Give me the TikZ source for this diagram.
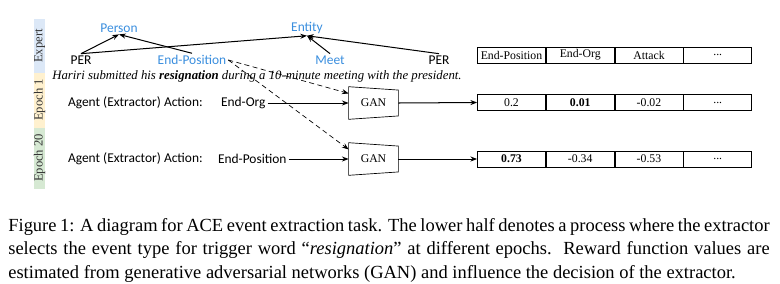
\documentclass[tikz,border=0pt]{standalone}
\usepackage{fontspec}
\setmainfont{Liberation Serif}
\newfontfamily\calfont{Carlito}
\usetikzlibrary{positioning,arrows.meta}
\definecolor{labelblue}{HTML}{3A8EDE}
\definecolor{expertbg}{HTML}{DCE8F7}
\definecolor{epochonebg}{HTML}{FFF1CF}
\definecolor{epochtwentybg}{HTML}{D6E9D3}
\tikzset{
  tag/.style={font=\calfont\fontsize{8}{9}\selectfont, inner sep=1pt},
  etype/.style={tag, text=labelblue},
  cell/.style={draw, minimum width=40.5pt, minimum height=9.6pt, inner sep=0pt,
    font=\fontsize{7}{8}\selectfont},
  gan/.style={minimum width=29.2pt, minimum height=19pt, inner sep=0pt,
    font=\fontsize{7}{8}\selectfont},
  band/.style={rotate=90, font=\fontsize{7.5}{8}\selectfont, text=black!80},
  arr/.style={-{Stealth[length=4pt,width=3pt]}, semithick},
  dasharr/.style={arr, densely dashed, thin},
}
\begin{document}
\begin{tikzpicture}[x=0.595pt,y=-0.595pt]
  \useasboundingbox (0,0) rectangle (780,283);
  % coloured bands on the left
  \fill[expertbg] (34,19) rectangle (45,73);
  \fill[epochonebg] (34,73) rectangle (45,128);
  \fill[epochtwentybg] (34,128) rectangle (45,189);
  \node[band] (expert) at (39.5,46) {Expert};
  \node[band] (epone) at (39.5,100) {Epoch 1};
  \node[band] (eptwenty) at (39.5,158) {Epoch 20};

  % expert annotation
  \node[etype] (person) at (119,28) {Person};
  \node[etype] (entity) at (307,28) {Entity};
  \node[tag] (per1) at (81,60) {PER};
  \node[etype] (endpos) at (192,60) {End-Position};
  \node[etype] (meet) at (330,60) {Meet};
  \node[tag] (per2) at (439,60) {PER};
  \draw[arr] (per1.north) -- (person.south);
  \draw[arr] (endpos.north) -- (person.south);
  \draw[arr] (per1.north) -- (entity.south);
  \draw[arr] (meet.north) -- (entity.south);
  \draw[arr] (per2.north) -- (entity.south);
  \node[anchor=west, inner sep=0pt, font=\itshape\fontsize{7.6}{9}\selectfont] (sent) at (52,76)
    {Hariri submitted his \textbf{resignation} during a 10-minute meeting with the president.};

  % extractor rows
  \node[tag, anchor=west] (act1) at (66,103) {Agent (Extractor) Action:};
  \node[tag, anchor=west] (org) at (219,103) {End-Org};
  \node[gan] (gan1) at (373.5,103) {GAN};
  \node[tag, anchor=west] (act2) at (66,159) {Agent (Extractor) Action:};
  \node[tag, anchor=west] (pos2) at (216,159) {End-Position};
  \node[gan] (gan2) at (373.5,159) {GAN};
  \draw (gan1.north west) -- ([yshift=-2pt]gan1.north east) -- ([yshift=2pt]gan1.south east) -- (gan1.south west) -- cycle;
  \draw (gan2.north west) -- ([yshift=-2pt]gan2.north east) -- ([yshift=2pt]gan2.south east) -- (gan2.south west) -- cycle;

  % reward tables
  \node[cell] (h1) at (511.5,55) {End-Position};
  \node[cell, right=0pt of h1] (h2) {End-Org};
  \node[cell, right=0pt of h2] (h3) {Attack};
  \node[cell, right=0pt of h3] (h4) {...};
  \node[cell] (a1) at (511.5,102.5) {0.2};
  \node[cell, right=0pt of a1] (a2) {\textbf{0.01}};
  \node[cell, right=0pt of a2] (a3) {-0.02};
  \node[cell, right=0pt of a3] (a4) {...};
  \node[cell] (b1) at (511.5,159) {\textbf{0.73}};
  \node[cell, right=0pt of b1] (b2) {-0.34};
  \node[cell, right=0pt of b2] (b3) {-0.53};
  \node[cell, right=0pt of b3] (b4) {...};

  \draw[arr] (org.east) -- (gan1.west);
  \draw[arr] (pos2.east) -- (gan2.west);
  \draw[arr] (gan1.east) -- (a1.west);
  \draw[arr] (gan2.east) -- (b1.west);
  \draw[dasharr] (endpos.east) -- ([yshift=-4pt]gan1.north west);
  \draw[dasharr] (endpos.east) -- ([yshift=-4pt]gan2.north west);

  \node[anchor=north west, inner sep=0pt, text width=453pt, align=justify,
    font=\fontsize{11}{14}\selectfont] (caption) at (8,218)
    {Figure 1: A diagram for ACE event extraction task. The lower half denotes a process where the extractor\linebreak
     selects the event type for trigger word ``\textit{resignation}'' at different epochs.\ \ Reward function values are\linebreak
     estimated from generative adversarial networks (GAN) and influence the decision of the extractor.};
\end{tikzpicture}
\end{document}
